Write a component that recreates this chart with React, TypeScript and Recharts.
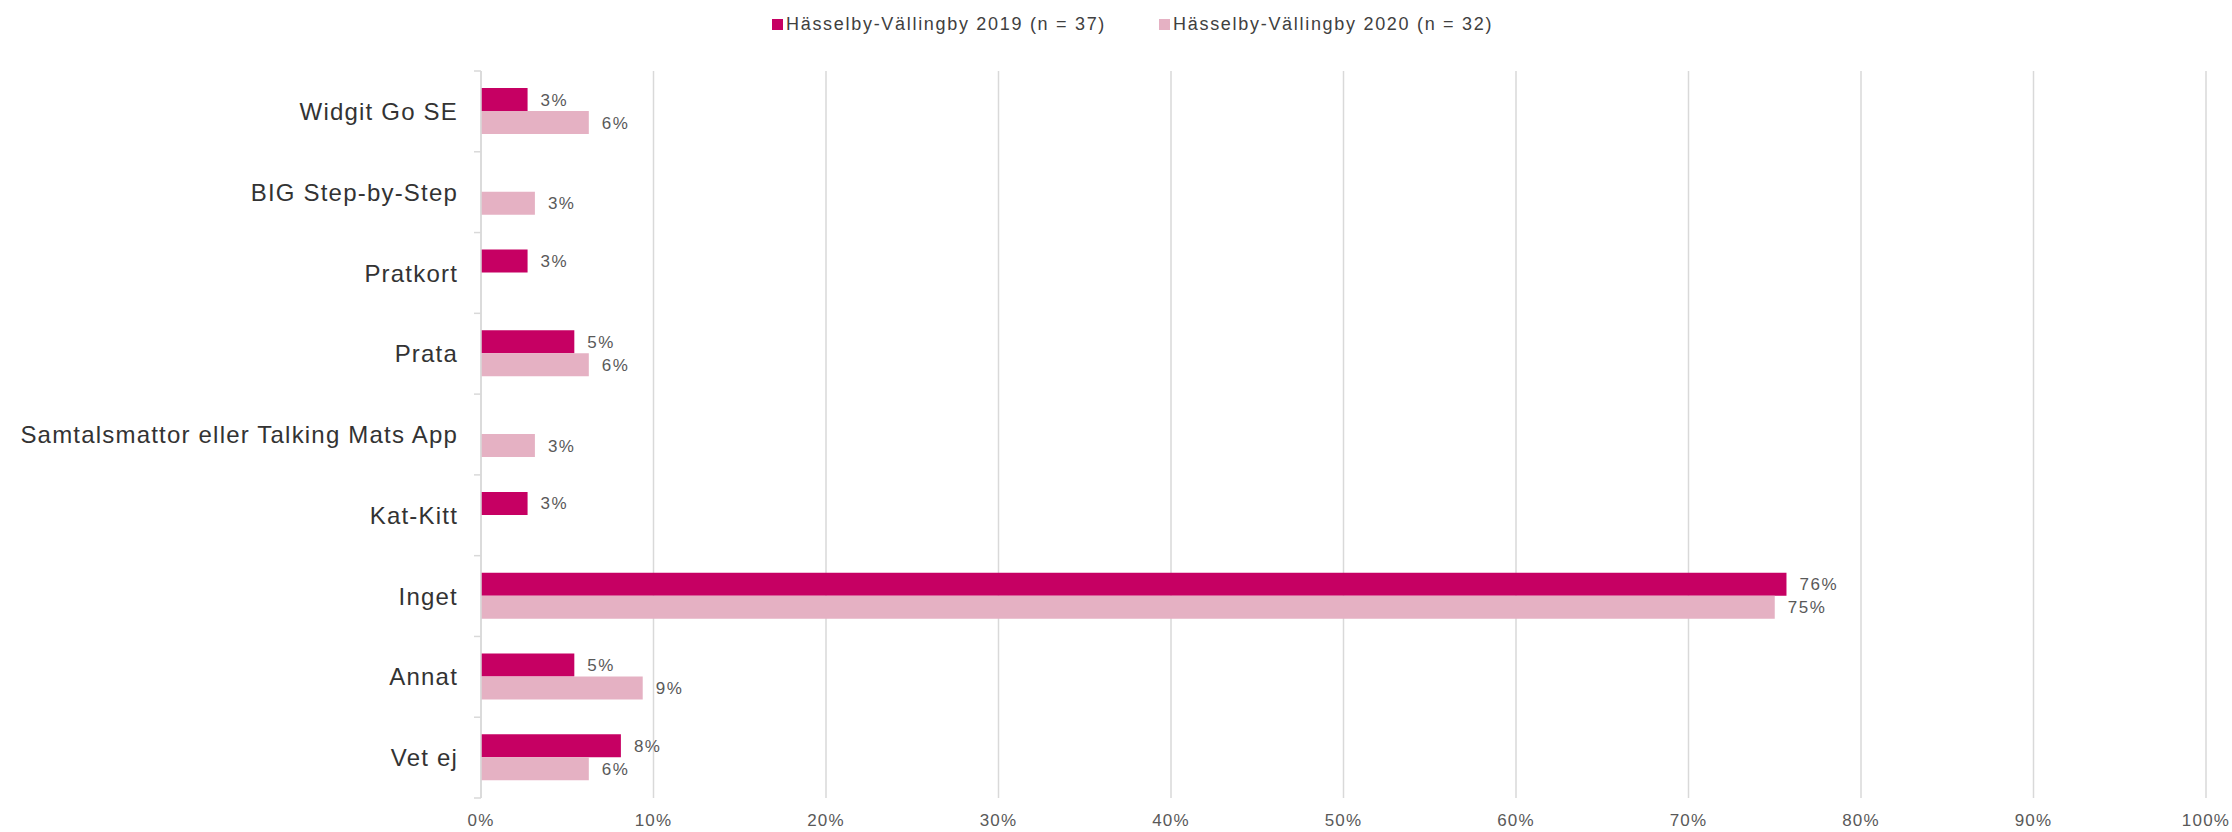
import React from "react";
import { BarChart, Bar, XAxis, YAxis, CartesianGrid, Legend, LabelList } from "recharts";

const CATEGORIES = [
  "Widgit Go SE",
  "BIG Step-by-Step",
  "Pratkort",
  "Prata",
  "Samtalsmattor eller Talking Mats App",
  "Kat-Kitt",
  "Inget",
  "Annat",
  "Vet ej",
];

// share in percent, null = no answers
const VALUES_2019 = [2.7, null, 2.7, 5.41, null, 2.7, 75.68, 5.41, 8.11];
const VALUES_2020 = [6.25, 3.125, null, 6.25, 3.125, null, 75, 9.375, 6.25];

const X_TICKS = [0, 10, 20, 30, 40, 50, 60, 70, 80, 90, 100];

const SERIES = [
  { key: "y2019", name: "Hässelby-Vällingby 2019 (n = 37)", color: "#C60063" },
  { key: "y2020", name: "Hässelby-Vällingby 2020 (n = 32)", color: "#E5B1C3" },
];

const data = CATEGORIES.map((name, i) => ({
  name,
  y2019: VALUES_2019[i],
  y2020: VALUES_2020[i],
}));

const FONT = "'Liberation Sans', Arial, sans-serif";
const GRID = "#D9D9D9";
const PLOT_TOP = 71;
const PLOT_HEIGHT = 727;
const BAND = PLOT_HEIGHT / CATEGORIES.length;
const TICK_SIZE = 7;
const TICK_MARGIN = 16;

const CategoryTick = (props: any) => {
  const { x, y, payload, index } = props;
  const axisX = x + TICK_SIZE + TICK_MARGIN;
  return (
    <g>
      <text
        x={x}
        y={y}
        dy="0.36em"
        textAnchor="end"
        fill="#333333"
        style={{ fontSize: 24, letterSpacing: 1.2, fontFamily: FONT }}
      >
        {payload.value}
      </text>
      <line x1={axisX - TICK_SIZE} x2={axisX} y1={y - BAND / 2} y2={y - BAND / 2} stroke={GRID} strokeWidth={1.5} />
      {index === CATEGORIES.length - 1 && (
        <line x1={axisX - TICK_SIZE} x2={axisX} y1={y + BAND / 2} y2={y + BAND / 2} stroke={GRID} strokeWidth={1.5} />
      )}
    </g>
  );
};

const renderLegend = () => (
  <div
    style={{
      height: PLOT_TOP,
      display: "flex",
      alignItems: "flex-start",
      paddingLeft: 772,
      boxSizing: "border-box",
      fontFamily: FONT,
    }}
  >
    {SERIES.map((s, i) => (
      <div
        key={s.key}
        style={{
          display: "flex",
          alignItems: "center",
          marginTop: 13,
          height: 22,
          marginRight: i === 0 ? 53 : 0,
        }}
      >
        <span style={{ display: "inline-block", width: 11, height: 11, background: s.color, marginRight: 3 }} />
        <span style={{ fontSize: 18, letterSpacing: 1.7, color: "#404040", whiteSpace: "nowrap" }}>{s.name}</span>
      </div>
    ))}
  </div>
);

const pct = (v: any) => (v === null || v === undefined ? "" : `${Math.round(v)}%`);

export default function App() {
  return (
    <div style={{ position: "absolute", left: 0, top: 0, background: "#fff", fontFamily: FONT }}>
      <BarChart
        width={2232}
        height={832}
        data={data}
        layout="vertical"
        margin={{ top: 0, right: 26, left: 0, bottom: 0 }}
        barGap={0}
      >
        <Legend verticalAlign="top" content={renderLegend} />
        <CartesianGrid horizontal={false} stroke={GRID} strokeWidth={1.5} />
        <XAxis
          type="number"
          domain={[0, 100]}
          ticks={X_TICKS}
          tickFormatter={(v) => `${v}%`}
          axisLine={false}
          tickLine={false}
          tickSize={0}
          tickMargin={16}
          height={34}
          interval={0}
          tick={{ fontSize: 17, fill: "#595959", letterSpacing: 1.2, fontFamily: FONT }}
        />
        <YAxis
          type="category"
          dataKey="name"
          width={481}
          axisLine={{ stroke: GRID, strokeWidth: 1.5 }}
          tickLine={false}
          tickSize={TICK_SIZE}
          tickMargin={TICK_MARGIN}
          interval={0}
          tick={<CategoryTick />}
        />
        {SERIES.map((s) => (
          <Bar key={s.key} dataKey={s.key} name={s.name} fill={s.color} barSize={23} isAnimationActive={false}>
            <LabelList
              dataKey={s.key}
              position="right"
              offset={13}
              formatter={pct}
              style={{ fontSize: 17, fill: "#595959", letterSpacing: 1.5, fontFamily: FONT }}
            />
          </Bar>
        ))}
      </BarChart>
    </div>
  );
}
